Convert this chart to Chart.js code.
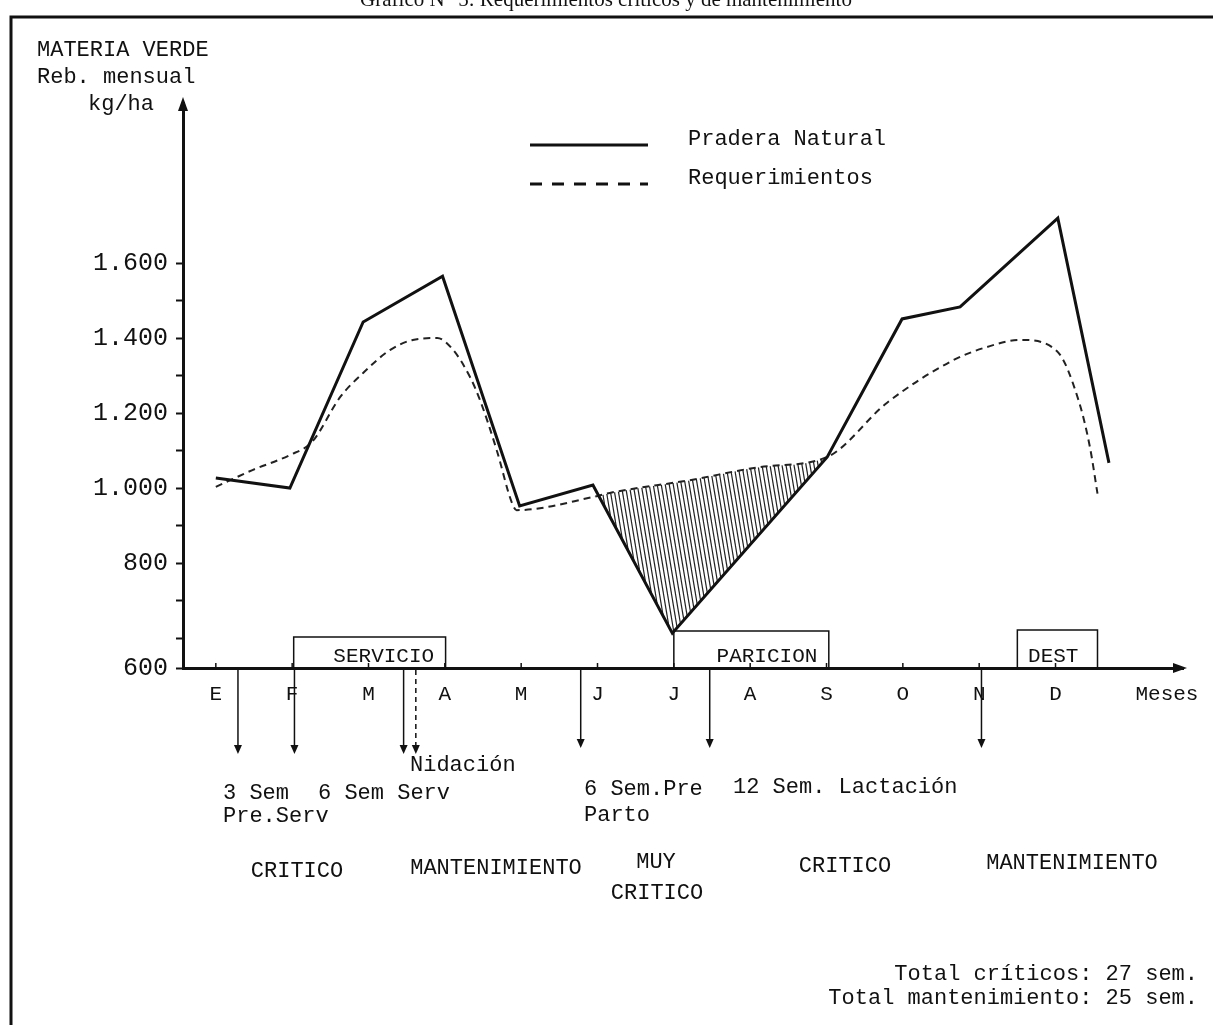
<!DOCTYPE html>
<html>
<head>
<meta charset="utf-8">
<script src="https://cdn.jsdelivr.net/npm/chart.js@4.4.1/dist/chart.umd.min.js"></script>
<style>
  html, body { margin: 0; padding: 0; background: #fff; }
</style>
</head>
<body>
<canvas id="grafico" width="1213" height="1025"></canvas>
<script>
// meses en el eje x (posicion = indice del mes)
const meses = ['E', 'F', 'M', 'A', 'M', 'J', 'J', 'A', 'S', 'O', 'N', 'D'];
const mesesPos = [0, 1, 2, 3, 4, 5, 6, 7, 8, 9, 10, 11];
const ejeXTitulo = 'Meses';
const ejeXTituloPos = 12.46;

// eje y (cortado: el origen se rotula 600)
const yTicksValores = [520, 600, 700, 800, 900, 1000, 1100, 1200, 1300, 1400, 1500, 1600];
const yTicksEtiquetas = ['600', '', '', '800', '', '1.000', '', '1.200', '', '1.400', '', '1.600'];

// Pradera Natural (kg/ha)
const praderaMes = [0, 0.97, 1.93, 2.97, 3.98, 4.94, 5.98, 8.01, 8.99, 9.75, 11.03, 11.7];
const praderaKg = [1027, 1000, 1443, 1565, 952, 1008, 613, 1083, 1451, 1483, 1720, 1067];

// Requerimientos (kg/ha)
const reqMes = [0, 0.48, 0.97, 1.26, 1.63, 1.93, 2.28, 2.58, 2.9, 3.11, 3.33, 3.46, 3.68, 3.88, 3.94,
  4.94, 5.16, 6.21, 7.13, 8.01, 8.79, 9.66, 10.1, 10.54, 11.02, 11.3, 11.45, 11.55];
const reqKg = [1003, 1048, 1088, 1123, 1243, 1307, 1368, 1395, 1400, 1368, 1296, 1235, 1101, 960, 941,
  976, 987, 1021, 1056, 1083, 1227, 1341, 1376, 1395, 1365, 1235, 1110, 985];

// tramo con deficit (rayado)
const deficitDesde = 4.94;
const deficitHasta = 8.01;

// periodos sobre el eje
const periodos = ['SERVICIO', 'PARICION', 'DEST'];
const periodoInicio = [1.02, 6.0, 10.5];
const periodoFin = [3.01, 8.03, 11.55];

// flechas bajo el eje
const flechasMes = [0.29, 1.03, 2.46, 4.78, 6.47, 10.03];
const nidacionMes = 2.62;

const FUENTE = '"Liberation Mono", "DejaVu Sans Mono", monospace';

function rayado() {
  const c = document.createElement('canvas');
  c.width = 4;
  c.height = 24;
  const g = c.getContext('2d');
  g.strokeStyle = '#222';
  g.lineWidth = 1.2;
  for (const dx of [-4, 0, 4]) {
    g.beginPath();
    g.moveTo(dx + 0.5, 0);
    g.lineTo(dx + 4.5, 24);
    g.stroke();
  }
  return g.createPattern(c, 'repeat');
}

const pradera = praderaMes.map((x, i) => ({ x, y: praderaKg[i] }));
const requer = reqMes.map((x, i) => ({ x, y: reqKg[i] }));
const deficit = pradera.filter(p => p.x >= deficitDesde && p.x <= deficitHasta);

function texto(ctx, s, x, y, align, size) {
  ctx.font = (size || 22) + 'px ' + FUENTE;
  ctx.textAlign = align || 'left';
  ctx.textBaseline = 'middle';
  ctx.fillText(s, x, y);
}

const decorado = {
  id: 'decorado',
  afterDraw(chart) {
    const ctx = chart.ctx;
    const xs = chart.scales.x;
    const area = chart.chartArea;
    const ejeY = area.bottom;
    const ejeX = area.left;
    ctx.save();
    ctx.fillStyle = '#111';
    ctx.strokeStyle = '#111';

    // marco
    ctx.lineWidth = 3;
    ctx.beginPath();
    ctx.moveTo(11, 1025);
    ctx.lineTo(11, 17);
    ctx.lineTo(1213, 17);
    ctx.stroke();

    // titulo (cortado arriba)
    ctx.font = '21px "Liberation Serif", serif';
    ctx.textAlign = 'center';
    ctx.textBaseline = 'alphabetic';
    ctx.fillText('Gráfico N° 5: Requerimientos críticos y de mantenimiento', 606, 6);

    // rotulo eje y
    texto(ctx, 'MATERIA VERDE', 37, 50);
    texto(ctx, 'Reb. mensual', 37, 77);
    texto(ctx, 'kg/ha', 88, 104);

    // puntas de flecha de los ejes
    ctx.beginPath();
    ctx.moveTo(ejeX, area.top - 6);
    ctx.lineTo(ejeX - 5, area.top + 8);
    ctx.lineTo(ejeX + 5, area.top + 8);
    ctx.closePath();
    ctx.fill();
    ctx.beginPath();
    ctx.moveTo(area.right + 4, ejeY);
    ctx.lineTo(area.right - 10, ejeY - 5);
    ctx.lineTo(area.right - 10, ejeY + 5);
    ctx.closePath();
    ctx.fill();

    // marcas pequeñas en el eje x
    ctx.lineWidth = 1.5;
    mesesPos.forEach(m => {
      const px = xs.getPixelForValue(m);
      ctx.beginPath();
      ctx.moveTo(px, ejeY);
      ctx.lineTo(px, ejeY - 5);
      ctx.stroke();
    });

    // leyenda
    chart.data.datasets.slice(0, 2).forEach((ds, i) => {
      const ly = 145 + i * 39;
      ctx.lineWidth = 3;
      ctx.setLineDash(i === 0 ? [] : [12, 10]);
      ctx.beginPath();
      ctx.moveTo(530, ly);
      ctx.lineTo(648, ly);
      ctx.stroke();
      ctx.setLineDash([]);
      texto(ctx, ds.label, 688, ly - 6);
    });

    // periodos
    const alturas = [31, 37, 38];
    const textoPos = [2.2, 7.22, 10.97];
    ctx.lineWidth = 1.5;
    periodos.forEach((p, i) => {
      const x0 = xs.getPixelForValue(periodoInicio[i]);
      const x1 = xs.getPixelForValue(periodoFin[i]);
      ctx.beginPath();
      ctx.moveTo(x0, ejeY);
      ctx.lineTo(x0, ejeY - alturas[i]);
      ctx.lineTo(x1, ejeY - alturas[i]);
      ctx.lineTo(x1, ejeY);
      ctx.stroke();
      texto(ctx, p, xs.getPixelForValue(textoPos[i]), ejeY - 12, 'center', 21);
    });

    // flechas hacia abajo
    const flecha = (m, largo, punteada) => {
      const px = xs.getPixelForValue(m);
      ctx.lineWidth = 1.5;
      ctx.setLineDash(punteada ? [5, 4] : []);
      ctx.beginPath();
      ctx.moveTo(px, ejeY + 2);
      ctx.lineTo(px, ejeY + largo - 6);
      ctx.stroke();
      ctx.setLineDash([]);
      ctx.beginPath();
      ctx.moveTo(px, ejeY + largo + 2);
      ctx.lineTo(px - 4, ejeY + largo - 7);
      ctx.lineTo(px + 4, ejeY + largo - 7);
      ctx.closePath();
      ctx.fill();
    };
    flechasMes.forEach((m, i) => flecha(m, i < 3 ? 84 : 78, false));
    flecha(nidacionMes, 84, true);

    // textos bajo el eje
    texto(ctx, 'Nidación', 410, 765);
    texto(ctx, '3 Sem', 223, 793);
    texto(ctx, 'Pre.Serv', 223, 816);
    texto(ctx, '6 Sem Serv', 318, 793);
    texto(ctx, '6 Sem.Pre', 584, 789);
    texto(ctx, 'Parto', 584, 815);
    texto(ctx, '12 Sem. Lactación', 733, 787);

    texto(ctx, 'CRITICO', 297, 871, 'center');
    texto(ctx, 'MANTENIMIENTO', 496, 868, 'center');
    texto(ctx, 'MUY', 656, 862, 'center');
    texto(ctx, 'CRITICO', 657, 893, 'center');
    texto(ctx, 'CRITICO', 845, 866, 'center');
    texto(ctx, 'MANTENIMIENTO', 1072, 863, 'center');

    texto(ctx, 'Total críticos: 27 sem.', 1198, 974, 'right');
    texto(ctx, 'Total mantenimiento: 25 sem.', 1198, 998, 'right');

    ctx.restore();
  }
};

new Chart(document.getElementById('grafico'), {
  type: 'line',
  data: {
    datasets: [
      {
        label: 'Pradera Natural',
        data: pradera,
        borderColor: '#111',
        borderWidth: 3,
        pointRadius: 0,
        tension: 0,
        fill: false
      },
      {
        label: 'Requerimientos',
        data: requer,
        borderColor: '#222',
        borderWidth: 2,
        borderDash: [7, 5],
        pointRadius: 0,
        cubicInterpolationMode: 'monotone',
        fill: false
      },
      {
        label: 'deficit',
        data: deficit,
        borderWidth: 0,
        borderColor: 'rgba(0,0,0,0)',
        pointRadius: 0,
        tension: 0,
        fill: { target: 1, above: 'rgba(0,0,0,0)', below: rayado() }
      }
    ]
  },
  options: {
    responsive: false,
    animation: false,
    devicePixelRatio: 1,
    layout: { padding: { left: 0, top: 103, right: 30, bottom: 0 } },
    plugins: {
      legend: { display: false },
      tooltip: { enabled: false }
    },
    scales: {
      x: {
        type: 'linear',
        min: -0.43,
        max: 12.67,
        afterFit: s => { s.height = 357; },
        afterBuildTicks: s => {
          s.ticks = mesesPos.concat([ejeXTituloPos]).map(v => ({ value: v }));
        },
        ticks: {
          autoSkip: false,
          maxRotation: 0,
          padding: 14,
          color: '#111',
          font: { family: FUENTE, size: 21 },
          callback: (v, i) => (i < meses.length ? meses[i] : ejeXTitulo)
        },
        grid: { drawOnChartArea: false, drawTicks: false },
        border: { color: '#111', width: 3 }
      },
      y: {
        type: 'linear',
        min: 520,
        max: 2027,
        afterFit: s => { s.width = 183; },
        afterBuildTicks: s => {
          s.ticks = yTicksValores.map(v => ({ value: v }));
        },
        ticks: {
          autoSkip: false,
          padding: 8,
          color: '#111',
          font: { family: FUENTE, size: 25 },
          callback: (v, i) => yTicksEtiquetas[i]
        },
        grid: { drawOnChartArea: false, tickLength: 7, tickColor: '#111', tickWidth: 2 },
        border: { color: '#111', width: 3 }
      }
    }
  },
  plugins: [decorado]
});
</script>
</body>
</html>
